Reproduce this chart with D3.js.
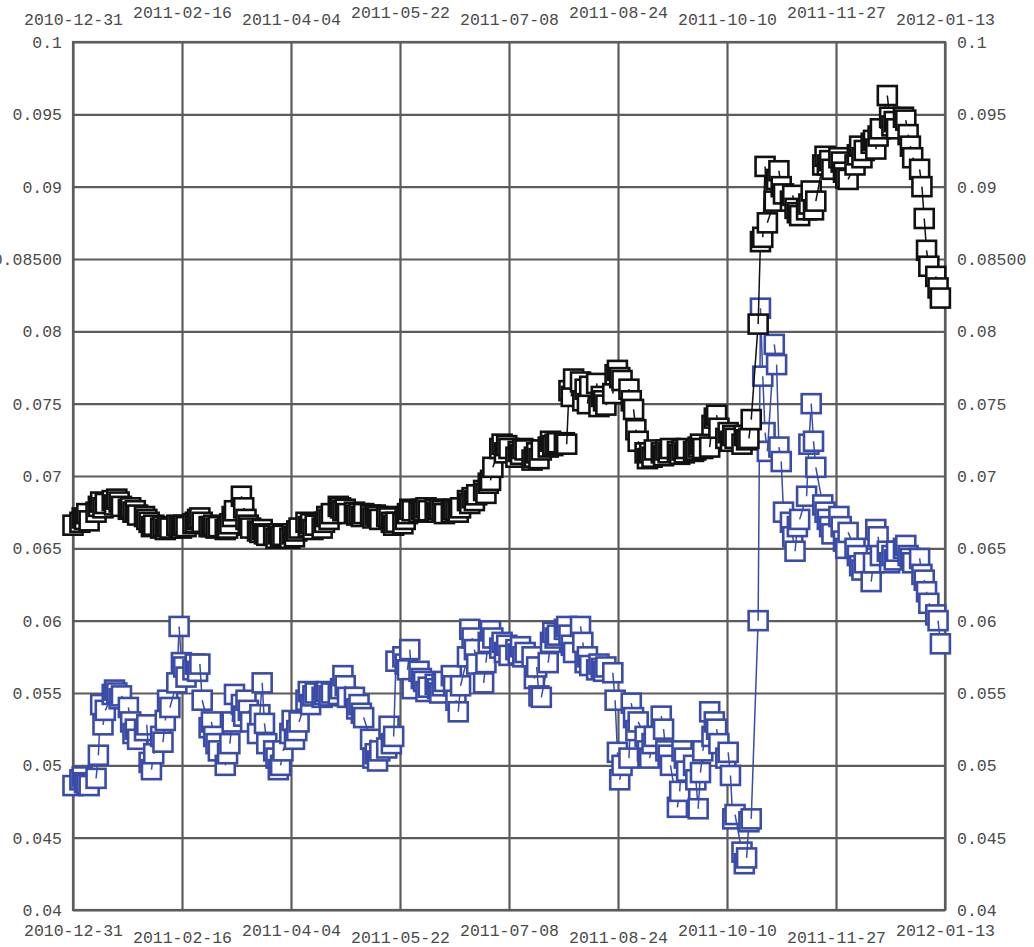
<!DOCTYPE html>
<html>
<head>
<meta charset="utf-8">
<script src="https://cdn.jsdelivr.net/npm/d3@7"></script>
<style>
  html, body { margin: 0; padding: 0; background: #ffffff; }
  svg { display: block; }
</style>
</head>
<body>
<svg id="chart" width="1034" height="947"></svg>
<script>
// Axis tick labels
const xTickLabels = ["2010-12-31", "2011-02-16", "2011-04-04", "2011-05-22", "2011-07-08",
                     "2011-08-24", "2011-10-10", "2011-11-27", "2012-01-13"];
const yTickValues = [0.1, 0.095, 0.09, 0.085, 0.08, 0.075, 0.07, 0.065, 0.06, 0.055, 0.05, 0.045, 0.04];
const yTickLabels = ["0.1", "0.095", "0.09", "0.08500", "0.08", "0.075", "0.07", "0.065",
                     "0.06", "0.055", "0.05", "0.045", "0.04"];

// Trading-day calendar: weekdays from 2010-12-31 through 2012-01-11
const firstDay = new Date(2010, 11, 31);
const lastDay = new Date(2012, 0, 11);

// Upper series (black), one value per trading day, grouped by month
const blackValues = [
  0.0666,
  0.0668, 0.0671, 0.0670, 0.0674, 0.0669, 0.0675, 0.0679, 0.0682, 0.0678, 0.0681, 0.0683, 0.0680, 0.0684, 0.0682, 0.0679, 0.0677, 0.0678, 0.0675, 0.0676, 0.0673, 0.0672,
  0.0670, 0.0668, 0.0665, 0.0666, 0.0664, 0.0665, 0.0663, 0.0665, 0.0664, 0.0666, 0.0665, 0.0664, 0.0666, 0.0665, 0.0667, 0.0668, 0.0670, 0.0671, 0.0668, 0.0665,
  0.0665, 0.0666, 0.0664, 0.0665, 0.0663, 0.0664, 0.0667, 0.0672, 0.0676, 0.0686, 0.0678, 0.0670, 0.0666, 0.0664, 0.0662, 0.0661, 0.0663, 0.0660, 0.0659, 0.0659, 0.0657, 0.0660, 0.0658,
  0.0659, 0.0657, 0.0660, 0.0658, 0.0662, 0.0664, 0.0668, 0.0665, 0.0667, 0.0663, 0.0666, 0.0664, 0.0668, 0.0672, 0.0670, 0.0674, 0.0679, 0.0678, 0.0676, 0.0677, 0.0674,
  0.0675, 0.0673, 0.0674, 0.0672, 0.0674, 0.0673, 0.0671, 0.0673, 0.0672, 0.0670, 0.0672, 0.0671, 0.0668, 0.0666, 0.0668, 0.0667, 0.0670, 0.0674, 0.0677, 0.0676, 0.0675, 0.0677,
  0.0676, 0.0678, 0.0676, 0.0677, 0.0675, 0.0677, 0.0676, 0.0674, 0.0675, 0.0677, 0.0676, 0.0675, 0.0678, 0.0683, 0.0681, 0.0685, 0.0683, 0.0687, 0.0690, 0.0688, 0.0695, 0.0697,
  0.0706, 0.0719, 0.0722, 0.0716, 0.0721, 0.0719, 0.0713, 0.0717, 0.0715, 0.0719, 0.0718, 0.0711, 0.0713, 0.0716, 0.0712, 0.0718, 0.0720, 0.0724, 0.0721, 0.0722, 0.0723,
  0.0723, 0.0722, 0.0759, 0.0755, 0.0767, 0.0765, 0.0752, 0.0760, 0.0750, 0.0762, 0.0764, 0.0748, 0.0755, 0.0752, 0.0749, 0.0757, 0.0770, 0.0773, 0.0768, 0.0766, 0.0760, 0.0752, 0.0746,
  0.0732, 0.0724, 0.0716, 0.0712, 0.0716, 0.0713, 0.0718, 0.0716, 0.0714, 0.0718, 0.0716, 0.0719, 0.0717, 0.0715, 0.0718, 0.0716, 0.0719, 0.0717, 0.0718, 0.0720, 0.0722, 0.0719,
  0.0720, 0.0735, 0.0740, 0.0742, 0.0733, 0.0726, 0.0730, 0.0724, 0.0728, 0.0726, 0.0722, 0.0728, 0.0725, 0.0726, 0.0739, 0.0805, 0.0862, 0.0865, 0.0914, 0.0875, 0.0890,
  0.0905, 0.0911, 0.0900, 0.0895, 0.0890, 0.0894, 0.0885, 0.0882, 0.0880, 0.0884, 0.0888, 0.0897, 0.0884, 0.0890, 0.0915, 0.0921, 0.0915, 0.0918, 0.0912, 0.0920, 0.0917, 0.0910,
  0.0906, 0.0905, 0.0915, 0.0922, 0.0928, 0.0920, 0.0925, 0.0930, 0.0932, 0.0926, 0.0935, 0.0940, 0.0963, 0.0948, 0.0942, 0.0945, 0.0940, 0.0948, 0.0946, 0.0936, 0.0928, 0.0920,
  0.0912, 0.0900, 0.0878, 0.0856, 0.0845, 0.0838, 0.0830, 0.0823
];

// Lower series (blue), one value per trading day, grouped by month
const blueValues = [
  0.0486,
  0.0490, 0.0492, 0.0488, 0.0487, 0.0486, 0.0491, 0.0507, 0.0542, 0.0528, 0.0538, 0.0549, 0.0552, 0.0550, 0.0546, 0.0548, 0.0540, 0.0530, 0.0522, 0.0525, 0.0518, 0.0524,
  0.0528, 0.0502, 0.0497, 0.0508, 0.0520, 0.0516, 0.0531, 0.0545, 0.0540, 0.0557, 0.0596, 0.0571, 0.0568, 0.0561, 0.0566, 0.0570, 0.0565, 0.0570, 0.0545, 0.0526,
  0.0530, 0.0520, 0.0515, 0.0510, 0.0500, 0.0508, 0.0515, 0.0530, 0.0549, 0.0542, 0.0534, 0.0545, 0.0538, 0.0530, 0.0522, 0.0535, 0.0557, 0.0529, 0.0515, 0.0510, 0.0505, 0.0497, 0.0500,
  0.0510, 0.0522, 0.0531, 0.0518, 0.0524, 0.0530, 0.0545, 0.0551, 0.0542, 0.0548, 0.0550, 0.0547, 0.0549, 0.0551, 0.0548, 0.0550, 0.0549, 0.0553, 0.0562, 0.0555, 0.0547,
  0.0547, 0.0539, 0.0542, 0.0536, 0.0533, 0.0518, 0.0505, 0.0508, 0.0503, 0.0510, 0.0512, 0.0527, 0.0515, 0.0520, 0.0572, 0.0575, 0.0570, 0.0566, 0.0580, 0.0553, 0.0565, 0.0560,
  0.0558, 0.0551, 0.0554, 0.0556, 0.0553, 0.0550, 0.0555, 0.0558, 0.0562, 0.0555, 0.0545, 0.0537, 0.0555, 0.0575, 0.0594, 0.0588, 0.0580, 0.0570, 0.0557, 0.0571, 0.0585, 0.0593,
  0.0588, 0.0581, 0.0585, 0.0578, 0.0583, 0.0576, 0.0580, 0.0577, 0.0582, 0.0575, 0.0578, 0.0575, 0.0560, 0.0568, 0.0548, 0.0547, 0.0571, 0.0585, 0.0592, 0.0588, 0.0590,
  0.0594, 0.0596, 0.0590, 0.0583, 0.0578, 0.0596, 0.0585, 0.0571, 0.0575, 0.0569, 0.0566, 0.0570, 0.0567, 0.0565, 0.0568, 0.0564, 0.0545, 0.0509, 0.0490, 0.0500, 0.0505, 0.0543, 0.0533,
  0.0524, 0.0530, 0.0520, 0.0510, 0.0505, 0.0515, 0.0520, 0.0534, 0.0525, 0.0510, 0.0507, 0.0500, 0.0471, 0.0482, 0.0510, 0.0505, 0.0496, 0.0500, 0.0490, 0.0470, 0.0495, 0.0510,
  0.0537, 0.0520, 0.0530, 0.0525, 0.0515, 0.0505, 0.0509, 0.0493, 0.0463, 0.0466, 0.0440, 0.0432, 0.0436, 0.0461, 0.0463, 0.0600, 0.0816, 0.0769, 0.0730, 0.0717, 0.0791,
  0.0777, 0.0720, 0.0710, 0.0675, 0.0668, 0.0658, 0.0648, 0.0665, 0.0670, 0.0686, 0.0722, 0.0750, 0.0724, 0.0706, 0.0680, 0.0675, 0.0670, 0.0665, 0.0660, 0.0672, 0.0665, 0.0655,
  0.0650, 0.0661, 0.0650, 0.0645, 0.0638, 0.0635, 0.0640, 0.0627, 0.0640, 0.0663, 0.0658, 0.0645, 0.0648, 0.0640, 0.0645, 0.0642, 0.0648, 0.0650, 0.0652, 0.0645, 0.0643, 0.0640,
  0.0643, 0.0632, 0.0628, 0.0620, 0.0612, 0.0604, 0.0600, 0.0584
];

// ---- layout ----
const width = 1034, height = 947;
const margin = { left: 73, right: 89, top: 42, bottom: 37 };
const plotRight = width - margin.right;
const plotBottom = height - margin.bottom;

const svg = d3.select("#chart");
svg.append("rect").attr("width", width).attr("height", height).attr("fill", "#ffffff");

const tradingDays = d3.timeDay.range(firstDay, d3.timeDay.offset(lastDay, 1))
  .filter(d => d.getDay() !== 0 && d.getDay() !== 6);

const domainStart = new Date(2010, 11, 31);
const domainEnd = new Date(2012, 0, 13);
const x = d3.scaleTime().domain([domainStart, domainEnd]).range([margin.left, plotRight]);
const y = d3.scaleLinear().domain([0.04, 0.1]).range([plotBottom, margin.top]);

const xTickDates = d3.range(xTickLabels.length).map(i =>
  new Date(+domainStart + i * (domainEnd - domainStart) / (xTickLabels.length - 1)));

const gridColor = "#5c5c5c";
const font = "'Liberation Mono', 'Courier New', monospace";
const textColor = "#4a4a4a";

// ---- grid ----
const gx = svg.append("g").attr("transform", `translate(0,${plotBottom})`)
  .call(d3.axisBottom(x).tickValues(xTickDates).tickSize(-(plotBottom - margin.top)).tickFormat(""));
gx.select(".domain").remove();
gx.selectAll(".tick line").attr("stroke", gridColor).attr("stroke-width", 2.2);

const gy = svg.append("g").attr("transform", `translate(${margin.left},0)`)
  .call(d3.axisLeft(y).tickValues(yTickValues).tickSize(-(plotRight - margin.left)).tickFormat(""));
gy.select(".domain").remove();
gy.selectAll(".tick line").attr("stroke", gridColor).attr("stroke-width", 2.2);

svg.append("rect")
  .attr("x", margin.left).attr("y", margin.top)
  .attr("width", plotRight - margin.left).attr("height", plotBottom - margin.top)
  .attr("fill", "none").attr("stroke", gridColor).attr("stroke-width", 2.2);

// ---- series: each point draws its square, then the segment to the next point ----
function drawSeries(values, color) {
  const pts = values.map((v, i) => ({ date: tradingDays[i], value: v }));
  pts.forEach((p, i) => { p.next = pts[i + 1] || null; });
  const size = 19;
  const g = svg.append("g");
  const items = g.selectAll("g").data(pts).join("g");
  items.append("rect")
    .attr("x", d => x(d.date) - size / 2)
    .attr("y", d => y(d.value) - size / 2)
    .attr("width", size).attr("height", size)
    .attr("fill", "#ffffff")
    .attr("stroke", color).attr("stroke-width", 2.6);
  items.filter(d => d.next)
    .append("line")
    .attr("x1", d => x(d.date)).attr("y1", d => y(d.value))
    .attr("x2", d => x(d.next.date)).attr("y2", d => y(d.next.value))
    .attr("stroke", color).attr("stroke-width", 1.5);
}
drawSeries(blueValues, "#3a4ca8");
drawSeries(blackValues, "#111111");

// ---- axis labels ----
function styleText(sel) {
  sel.attr("font-family", font).attr("font-size", "16.5px").attr("fill", textColor);
}

const xTop = svg.append("g").attr("transform", `translate(0,${margin.top})`)
  .call(d3.axisTop(x).tickValues(xTickDates).tickSize(0).tickFormat((d, i) => xTickLabels[i]));
xTop.select(".domain").remove();
xTop.selectAll("text").attr("dy", null).attr("y", (d, i) => i % 2 ? -24 : -17).call(styleText);

const xBottom = svg.append("g").attr("transform", `translate(0,${plotBottom})`)
  .call(d3.axisBottom(x).tickValues(xTickDates).tickSize(0).tickFormat((d, i) => xTickLabels[i]));
xBottom.select(".domain").remove();
xBottom.selectAll("text").attr("dy", null).attr("y", (d, i) => i % 2 ? 33 : 25.5).call(styleText);

const yLeft = svg.append("g").attr("transform", `translate(${margin.left},0)`)
  .call(d3.axisLeft(y).tickValues(yTickValues).tickSize(0).tickPadding(11)
    .tickFormat((d, i) => yTickLabels[i]));
yLeft.select(".domain").remove();
yLeft.selectAll("text").attr("dy", "0.34em").call(styleText);

const yRight = svg.append("g").attr("transform", `translate(${plotRight},0)`)
  .call(d3.axisRight(y).tickValues(yTickValues).tickSize(0).tickPadding(12)
    .tickFormat((d, i) => yTickLabels[i]));
yRight.select(".domain").remove();
yRight.selectAll("text").attr("dy", "0.34em").call(styleText);
</script>
</body>
</html>
